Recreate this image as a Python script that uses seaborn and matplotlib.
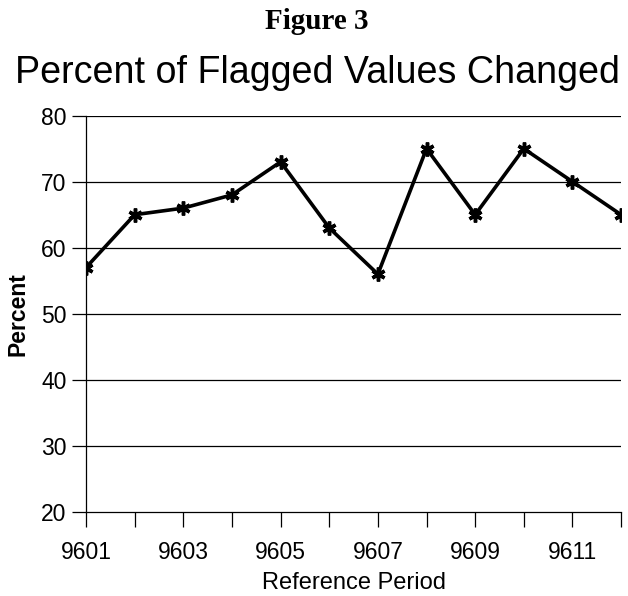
import matplotlib
matplotlib.use("Agg")
import matplotlib.pyplot as plt
import seaborn as sns
import pandas as pd

periods = ["9601", "9602", "9603", "9604", "9605", "9606",
           "9607", "9608", "9609", "9610", "9611", "9612"]
percent = [57, 65, 66, 68, 73, 63, 56, 75, 65, 75, 70, 65]
y_ticks = [20, 30, 40, 50, 60, 70, 80]

sns.set_style("white")
plt.rcParams['font.family'] = ['Liberation Sans', 'DejaVu Sans']
plt.rcParams['text.color'] = 'black'
plt.rcParams['axes.labelcolor'] = 'black'
plt.rcParams['xtick.color'] = 'black'
plt.rcParams['ytick.color'] = 'black'

df = pd.DataFrame({"idx": range(len(periods)), "period": periods, "percent": percent})

fig = plt.figure(figsize=(6.28, 5.96), dpi=100)
ax = fig.add_axes([0.137, 0.141, 0.852, 0.665])

for y in y_ticks[1:]:
    ax.axhline(y, color="black", linewidth=0.9, zorder=1)

sns.lineplot(data=df, x="idx", y="percent", ax=ax, color="black",
             linewidth=2.6, marker=(6, 2, 0), markersize=10,
             markeredgewidth=2.5, markeredgecolor="black", zorder=3)

ax.set_xlim(0, len(periods) - 1)
ax.set_ylim(20, 80)
ax.set_yticks(y_ticks)
ax.set_xticks(range(len(periods)))
ax.set_xticklabels([p if i % 2 == 0 else "" for i, p in enumerate(periods)])
ax.tick_params(axis="x", length=11, width=0.9, labelsize=16.5, pad=10, direction="out", bottom=True)
ax.tick_params(axis="y", length=10, width=0.9, labelsize=16.5, pad=4, direction="out", left=True)

for s in ["top", "right"]:
    ax.spines[s].set_visible(False)
for s in ["left", "bottom"]:
    ax.spines[s].set_color("black")
    ax.spines[s].set_linewidth(0.9)

ax.set_xlabel("Reference Period", fontsize=17, labelpad=6)
ax.set_ylabel("Percent", fontsize=16.5, fontweight="bold", labelpad=8)

fig.text(0.505, 0.964, "Figure 3", ha="center", va="center", fontsize=21,
         fontweight="bold", family=["Liberation Serif", "DejaVu Serif"])
fig.text(0.505, 0.877, "Percent of Flagged Values Changed", ha="center", va="center",
         fontsize=27.1)

fig.savefig("out.png", dpi=100)
